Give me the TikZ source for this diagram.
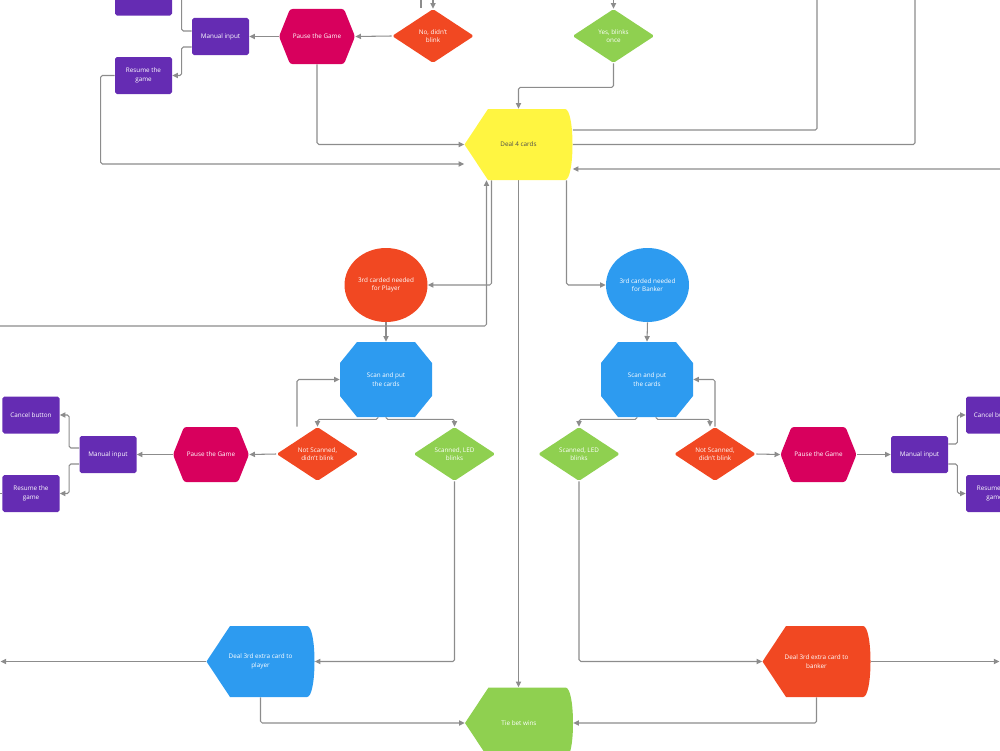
\documentclass[tikz,border=0pt]{standalone}
\usepackage{fontspec}
\setmainfont{Open Sans}
\usetikzlibrary{shapes.geometric,arrows.meta,backgrounds}
\definecolor{purp}{RGB}{101,44,179}
\definecolor{mag}{RGB}{216,0,93}
\definecolor{orng}{RGB}{241,72,34}
\definecolor{grn}{RGB}{143,208,80}
\definecolor{blu}{RGB}{45,155,240}
\definecolor{ylw}{RGB}{255,245,65}
\definecolor{wire}{RGB}{140,140,140}
\begin{document}
\begin{tikzpicture}[x=0.2mm,y=-0.2mm,
    txt/.style={font=\fontsize{3.6}{4.8}\selectfont,text=white,align=center,inner sep=0pt},
    card/.style={txt,rectangle,rounded corners=1pt,fill=purp,minimum width=11.4mm,minimum height=7.4mm},
    ask/.style={txt,diamond,rounded corners=1pt,fill=#1,minimum width=16.4mm,minimum height=10.8mm},
    blob/.style={txt,ellipse,fill=#1,minimum width=16.6mm,minimum height=14.8mm},
    hexa/.style={txt,rectangle,minimum width=15.2mm,minimum height=11mm,
      path picture={\path (path picture bounding box.north west) coordinate (nw)
        (path picture bounding box.south east) coordinate (se)
        (path picture bounding box.west) coordinate (w)
        (path picture bounding box.east) coordinate (e);
        \fill[mag,rounded corners=0.5mm] (w) -- ([xshift=2.2mm]nw) -- ([xshift=-2.2mm]nw -| se) -- (e)
          -- ([xshift=-2.2mm]se) -- ([xshift=2.2mm]se -| nw) -- cycle;}},
    octo/.style={txt,rectangle,minimum width=18.4mm,minimum height=15mm,
      path picture={\path (path picture bounding box.north west) coordinate (nw)
        (path picture bounding box.south east) coordinate (se);
        \fill[blu] ([xshift=3.4mm]nw) -- ([xshift=-3.4mm]nw -| se) -- ([yshift=-4.2mm]nw -| se)
          -- ([yshift=4.2mm]se) -- ([xshift=-3.4mm]se) -- ([xshift=3.4mm]se -| nw)
          -- ([yshift=4.2mm]se -| nw) -- ([yshift=-4.2mm]nw) -- cycle;}},
    screen/.style={txt,rectangle,minimum width=21.6mm,minimum height=14.2mm,
      path picture={\path (path picture bounding box.north west) coordinate (nw)
        (path picture bounding box.south east) coordinate (se)
        (path picture bounding box.west) coordinate (w);
        \fill[#1] (w) -- ([xshift=4.7mm]nw) -- ([xshift=-1.5mm]nw -| se)
          .. controls ([xshift=0.5mm]nw -| se) and ([xshift=0.5mm]se) .. ([xshift=-1.5mm]se)
          -- ([xshift=4.7mm]se -| nw) -- cycle;}},
    link/.style={draw=wire,line width=0.6pt,rounded corners=1pt,-{Triangle[length=3.2pt,width=3pt]}},
    wire/.style={draw=wire,line width=0.6pt,rounded corners=1pt}]
\useasboundingbox (0,0) rectangle (1000,750);
\clip (0,0) rectangle (1000,750);
\node[card] (cancelT) at (143.5,-3) {Cancel button};
\node[card] (manualT) at (220.5,36.5) {Manual input};
\node[card] (resumeT) at (143.5,75.5) {Resume the\\game};
\node[hexa] (pauseT) at (317,36.5) {Pause the Game};
\node[ask=orng] (noT) at (433,36) {No, didn't\\blink};
\node[ask=grn] (yesT) at (613.5,36) {Yes, blinks\\once};
\node[screen=ylw,text=black!70] (deal4) at (518.5,144.5) {Deal 4 cards};
\node[blob=orng] (playerC) at (386,285) {3rd carded needed\\for Player};
\node[blob=blu] (bankerC) at (647.5,285) {3rd carded needed\\for Banker};
\node[octo] (scanP) at (386,379.5) {Scan and put\\the cards};
\node[octo] (scanB) at (647,379.5) {Scan and put\\the cards};
\node[ask=orng] (notP) at (317.5,454) {Not Scanned,\\didn't blink};
\node[ask=grn] (okP) at (454.5,454) {Scanned, LED\\blinks};
\node[ask=grn] (okB) at (579,454) {Scanned, LED\\blinks};
\node[ask=orng] (notB) at (715,454) {Not Scanned,\\didn't blink};
\node[hexa] (pauseP) at (211,454.5) {Pause the Game};
\node[hexa] (pauseB) at (818.5,454.5) {Pause the Game};
\node[card] (manualP) at (108,454.5) {Manual input};
\node[card] (manualB) at (919.5,454.5) {Manual input};
\node[card] (cancelP) at (31,415) {Cancel button};
\node[card] (resumeP) at (31,493.5) {Resume the\\game};
\node[card] (cancelB) at (994.5,415) {Cancel button};
\node[card] (resumeB) at (994.5,493.5) {Resume the\\game};
\node[screen=blu] (dealP) at (260.5,661.5) {Deal 3rd extra card to\\player};
\node[screen=orng] (dealB) at (816.5,661.5) {Deal 3rd extra card to\\banker};
\node[screen=grn] (tie) at (519,723) {Tie bet wins};
\coordinate (offA) at (817,-10);
\coordinate (offB) at (915,-10);
\coordinate (offC) at (1010,169);
\coordinate (offD) at (433,-10);
\coordinate (offE) at (613.5,-10);
\coordinate (offF) at (421,-10);
\coordinate (stubF) at (421,8);
\coordinate (offG) at (-10,326);
\coordinate (offH) at (-10,493.5);
\coordinate (offI) at (0.5,661.5);
\coordinate (offJ) at (999.5,661.5);
\begin{scope}[on background layer]
\clip (0,0) rectangle (1000,750);
\draw[link] ([yshift=1.1mm]manualT.west) -- ++(-10,0) |- (cancelT.east);
\draw[link] ([yshift=-2.1mm]manualT.west) -- ++(-10,0) |- (resumeT.east);
\draw[link] (pauseT.west) -- (manualT.east);
\draw[link] (noT.west) -- (pauseT.east);
\draw[link] (pauseT.south) |- (deal4.west);
\draw[link] (resumeT.west) -- ++(-14,0) |- ([yshift=-3.9mm]deal4.west);
\draw[link] (yesT.south) -- ++(0,24) -| (deal4.north);
\draw[wire] ([yshift=2.9mm]deal4.east) -| (offA);
\draw[wire] (deal4.east) -| (offB);
\draw[link] (offC) -- ([yshift=-4.9mm]deal4.east);
\draw[link] (offD) -- (noT.north);
\draw[link] (offE) -- (yesT.north);
\draw[wire] (offF) -- (stubF);
\draw[link] ([xshift=-5.4mm]deal4.south) |- (playerC.east);
\draw[link] (offG) -| ([xshift=-6.4mm]deal4.south);
\draw[link] (deal4.south) -- (deal4.south |- tie.north);
\draw[link] ([xshift=9.6mm]deal4.south) |- (bankerC.west);
\draw[link] (playerC.south) -- (scanP.north);
\draw[link] (bankerC.south) -- (scanB.north);
\draw[link] ([xshift=-1.6mm]scanP.south) -- ++(0,2) -| (notP.north);
\draw[link] (scanP.south) -- ++(0,2) -| (okP.north);
\draw[link] ([xshift=-4.1mm]notP.north) |- (scanP.west);
\draw[link] (notP.west) -- (pauseP.east);
\draw[link] (pauseP.west) -- (manualP.east);
\draw[link] ([yshift=1.3mm]manualP.west) -- ++(-10,0) |- (cancelP.east);
\draw[link] ([yshift=-1.9mm]manualP.west) -- ++(-10,0) |- (resumeP.east);
\draw[wire] (resumeP.west) -- (offH);
\draw[link] (okP.south) |- (dealP.east);
\draw[link] (dealP.west) -- (offI);
\draw[link] (dealP.south) |- (tie.west);
\draw[link] ([xshift=-2mm]scanB.south) -- ++(0,2) -| (okB.north);
\draw[link] ([xshift=1.8mm]scanB.south) -- ++(0,2) -| ([xshift=-1mm]notB.north);
\draw[link] (notB.north) |- (scanB.east);
\draw[link] (notB.east) -- (pauseB.west);
\draw[link] (pauseB.east) -- (manualB.west);
\draw[link] ([yshift=2.1mm]manualB.east) -- ++(9,0) |- (cancelB.west);
\draw[link] ([yshift=-1.9mm]manualB.east) -- ++(9,0) |- (resumeB.west);
\draw[link] (okB.south) |- (dealB.west);
\draw[link] (dealB.east) -- (offJ);
\draw[link] (dealB.south) |- (tie.east);
\end{scope}
\end{tikzpicture}
\end{document}
